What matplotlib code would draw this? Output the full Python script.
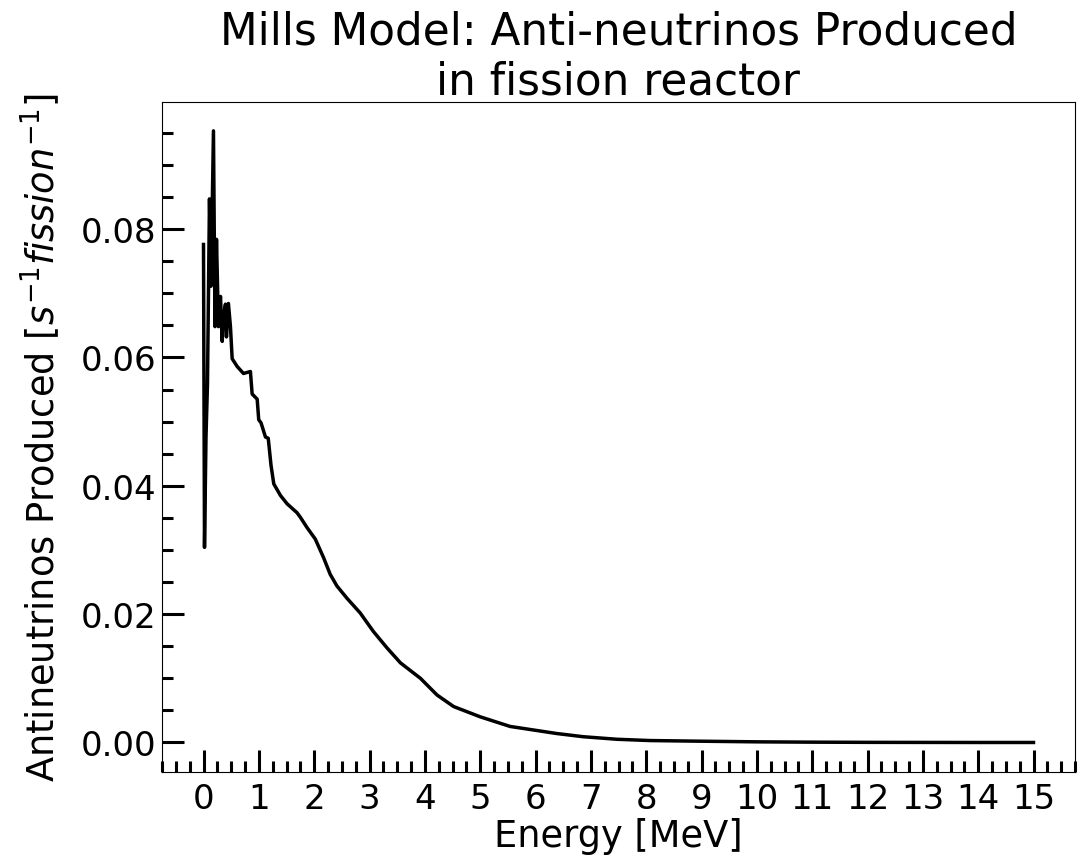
import numpy as np
import matplotlib
matplotlib.use("Agg")
import matplotlib.pyplot as plt
from matplotlib.ticker import AutoMinorLocator, MultipleLocator

# Mills model reactor anti-neutrino spectrum (per second per fission)
energy = [0.0, 0.018, 0.045, 0.072, 0.108, 0.135, 0.18, 0.208, 0.235, 0.27,
          0.307, 0.338, 0.36, 0.397, 0.415, 0.45, 0.487, 0.518, 0.608, 0.722,
          0.848, 0.879, 0.97, 0.998, 1.04, 1.12, 1.17, 1.22, 1.27, 1.39,
          1.51, 1.69, 1.75, 1.87, 2.02, 2.17, 2.29, 2.41, 2.59, 2.83,
          3.07, 3.32, 3.56, 3.92, 4.22, 4.52, 5.0, 5.54, 6.38, 6.86,
          7.47, 8.07, 8.97, 10.0, 11.0, 12.0, 13.0, 14.0, 15.0]
flux = [0.0776, 0.0304, 0.0476, 0.0559, 0.0847, 0.0711, 0.0953, 0.0648, 0.0784, 0.0648,
        0.0695, 0.0625, 0.0664, 0.0683, 0.0632, 0.0684, 0.0648, 0.0598, 0.0586, 0.0575,
        0.0578, 0.0543, 0.0535, 0.0503, 0.0498, 0.0476, 0.0474, 0.0432, 0.0403, 0.0385,
        0.0372, 0.0358, 0.0351, 0.0335, 0.0317, 0.0288, 0.0262, 0.0244, 0.0225, 0.0202,
        0.0173, 0.0147, 0.0124, 0.0100, 0.0074, 0.0056, 0.0040, 0.0025, 0.0014, 0.0009,
        0.0005, 0.0003, 0.0002, 0.0001, 0.00005, 0.00002, 0.00001, 0.0, 0.0]

fig = plt.figure(figsize=(10.87, 8.62), dpi=100)
ax = fig.add_axes([162/1087, 1 - 773/862, (1075-162)/1087, (773-103)/862])

ax.plot(energy, flux, color="black", lw=2.5)
ax.set_xlim(-0.75, 15.75)
ax.set_ylim(-0.0046, 0.0998)

ax.xaxis.set_major_locator(MultipleLocator(1))
ax.xaxis.set_minor_locator(AutoMinorLocator(4))
ax.yaxis.set_major_locator(MultipleLocator(0.02))
ax.yaxis.set_minor_locator(AutoMinorLocator(4))
ax.tick_params(which="major", direction="in", length=16, width=2.2, labelsize=24.5, pad=7)
ax.tick_params(axis="y", which="major", pad=4)
ax.tick_params(which="minor", direction="in", length=8, width=2.2)

ax.set_xlabel("Energy [MeV]", fontsize=26.5, labelpad=2)
ax.set_ylabel(r"Antineutrinos Produced [$s^{-1} fission^{-1}$]", fontsize=26.5, labelpad=13)
ax.set_title("Mills Model: Anti-neutrinos Produced\nin fission reactor", fontsize=31.5, pad=4)

fig.savefig("out.png", dpi=100)
